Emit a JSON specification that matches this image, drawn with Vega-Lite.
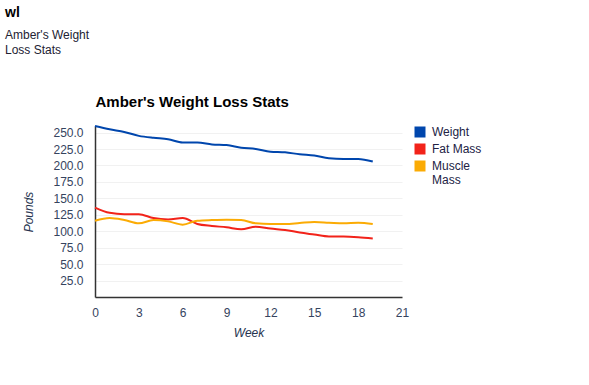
{
  "$schema": "https://vega.github.io/schema/vega-lite/v6.json",
  "width": 307,
  "height": 171,
  "autosize": {"type": "none"},
  "padding": {"left": 95, "top": 126, "right": 187, "bottom": 88},
  "background": "white",
  "title": {
    "text": "wl",
    "subtitle": ["Amber's Weight", "Loss Stats"],
    "anchor": "start",
    "frame": "group",
    "dx": -90,
    "offset": 38,
    "font": "Liberation Sans",
    "fontSize": 14,
    "fontWeight": "bold",
    "color": "#000000",
    "subtitleFont": "Liberation Sans",
    "subtitleFontSize": 12,
    "subtitleColor": "#222233",
    "subtitlePadding": 10,
    "subtitleLineHeight": 15
  },
  "config": {
    "font": "Liberation Sans",
    "view": {"stroke": null}
  },
  "data": {
    "values": [
      {"week": 0, "series": "Weight", "pounds": 260},
      {"week": 1, "series": "Weight", "pounds": 255},
      {"week": 2, "series": "Weight", "pounds": 251},
      {"week": 3, "series": "Weight", "pounds": 245},
      {"week": 4, "series": "Weight", "pounds": 242},
      {"week": 5, "series": "Weight", "pounds": 240},
      {"week": 6, "series": "Weight", "pounds": 235},
      {"week": 7, "series": "Weight", "pounds": 235},
      {"week": 8, "series": "Weight", "pounds": 232},
      {"week": 9, "series": "Weight", "pounds": 231},
      {"week": 10, "series": "Weight", "pounds": 227},
      {"week": 11, "series": "Weight", "pounds": 225},
      {"week": 12, "series": "Weight", "pounds": 221},
      {"week": 13, "series": "Weight", "pounds": 220},
      {"week": 14, "series": "Weight", "pounds": 217},
      {"week": 15, "series": "Weight", "pounds": 215},
      {"week": 16, "series": "Weight", "pounds": 211},
      {"week": 17, "series": "Weight", "pounds": 210},
      {"week": 18, "series": "Weight", "pounds": 210},
      {"week": 19, "series": "Weight", "pounds": 206},
      {"week": 0, "series": "Fat Mass", "pounds": 136},
      {"week": 1, "series": "Fat Mass", "pounds": 128},
      {"week": 2, "series": "Fat Mass", "pounds": 126},
      {"week": 3, "series": "Fat Mass", "pounds": 126},
      {"week": 4, "series": "Fat Mass", "pounds": 120},
      {"week": 5, "series": "Fat Mass", "pounds": 118},
      {"week": 6, "series": "Fat Mass", "pounds": 120},
      {"week": 7, "series": "Fat Mass", "pounds": 111},
      {"week": 8, "series": "Fat Mass", "pounds": 108},
      {"week": 9, "series": "Fat Mass", "pounds": 106},
      {"week": 10, "series": "Fat Mass", "pounds": 103},
      {"week": 11, "series": "Fat Mass", "pounds": 107},
      {"week": 12, "series": "Fat Mass", "pounds": 104},
      {"week": 13, "series": "Fat Mass", "pounds": 102},
      {"week": 14, "series": "Fat Mass", "pounds": 98},
      {"week": 15, "series": "Fat Mass", "pounds": 95},
      {"week": 16, "series": "Fat Mass", "pounds": 92},
      {"week": 17, "series": "Fat Mass", "pounds": 92},
      {"week": 18, "series": "Fat Mass", "pounds": 91},
      {"week": 19, "series": "Fat Mass", "pounds": 89},
      {"week": 0, "series": "Muscle Mass", "pounds": 116},
      {"week": 1, "series": "Muscle Mass", "pounds": 120},
      {"week": 2, "series": "Muscle Mass", "pounds": 117},
      {"week": 3, "series": "Muscle Mass", "pounds": 112},
      {"week": 4, "series": "Muscle Mass", "pounds": 117},
      {"week": 5, "series": "Muscle Mass", "pounds": 115},
      {"week": 6, "series": "Muscle Mass", "pounds": 110},
      {"week": 7, "series": "Muscle Mass", "pounds": 116},
      {"week": 8, "series": "Muscle Mass", "pounds": 117},
      {"week": 9, "series": "Muscle Mass", "pounds": 117.5},
      {"week": 10, "series": "Muscle Mass", "pounds": 117},
      {"week": 11, "series": "Muscle Mass", "pounds": 112},
      {"week": 12, "series": "Muscle Mass", "pounds": 111},
      {"week": 13, "series": "Muscle Mass", "pounds": 111},
      {"week": 14, "series": "Muscle Mass", "pounds": 112.5},
      {"week": 15, "series": "Muscle Mass", "pounds": 114},
      {"week": 16, "series": "Muscle Mass", "pounds": 113},
      {"week": 17, "series": "Muscle Mass", "pounds": 112},
      {"week": 18, "series": "Muscle Mass", "pounds": 113},
      {"week": 19, "series": "Muscle Mass", "pounds": 111}
    ]
  },
  "layer": [
    {
      "mark": {"type": "rule", "strokeWidth": 0},
      "encoding": {
        "x": {
          "field": "week",
          "type": "quantitative",
          "axis": {
            "orient": "top",
            "title": "Amber's Weight Loss Stats",
            "titleFont": "Liberation Sans",
            "titleFontSize": 15,
            "titleFontWeight": "bold",
            "titleColor": "#000000",
            "titleAnchor": "start",
            "titleAlign": "left",
            "titlePadding": 17,
            "labels": false,
            "ticks": false,
            "domain": false,
            "grid": false
          }
        }
      }
    },
    {
      "mark": {"type": "line", "interpolate": "monotone", "strokeWidth": 2},
      "encoding": {
        "x": {
          "field": "week",
          "type": "quantitative",
          "scale": {"domain": [0, 21], "nice": false},
          "axis": {
            "orient": "bottom",
            "title": "Week",
            "values": [0, 3, 6, 9, 12, 15, 18, 21],
            "labelFlush": false,
            "grid": false,
            "ticks": false,
            "domainColor": "#333333",
            "domainWidth": 1.5,
            "labelFontSize": 12,
            "labelColor": "#35435e",
            "labelPadding": 10,
            "titleFontSize": 12,
            "titleFontStyle": "italic",
            "titleFontWeight": "normal",
            "titleColor": "#26344f",
            "titlePadding": 9
          }
        },
        "y": {
          "field": "pounds",
          "type": "quantitative",
          "scale": {"domain": [0, 260], "nice": false},
          "axis": {
            "title": "Pounds",
            "values": [25, 50, 75, 100, 125, 150, 175, 200, 225, 250],
            "format": ".1f",
            "labelFlush": false,
            "grid": true,
            "gridColor": "#f1f1f1",
            "ticks": false,
            "domainColor": "#333333",
            "domainWidth": 1.5,
            "labelFontSize": 12,
            "labelColor": "#35435e",
            "labelPadding": 12,
            "titleFontSize": 12,
            "titleFontStyle": "italic",
            "titleFontWeight": "normal",
            "titleColor": "#26344f",
            "titlePadding": 17
          }
        },
        "color": {
          "field": "series",
          "type": "nominal",
          "sort": ["Weight", "Fat Mass", "Muscle Mass"],
          "scale": {
            "domain": ["Weight", "Fat Mass", "Muscle Mass"],
            "range": ["#0046ad", "#f2231a", "#fbab04"]
          },
          "legend": {
            "title": null,
            "orient": "right",
            "offset": 12,
            "padding": 0,
            "symbolType": "square",
            "symbolSize": 121,
            "symbolOpacity": 1,
            "labelFontSize": 12,
            "labelColor": "#222244",
            "labelOffset": 6,
            "rowPadding": 5,
            "labelExpr": "datum.label == 'Muscle Mass' ? ['Muscle', 'Mass'] : datum.label",
            "encode": {
              "symbols": {
                "update": {
                  "fill": {"scale": "color", "field": "value"},
                  "stroke": {"value": "transparent"},
                  "strokeWidth": {"value": 0}
                }
              }
            }
          }
        }
      }
    }
  ]
}
